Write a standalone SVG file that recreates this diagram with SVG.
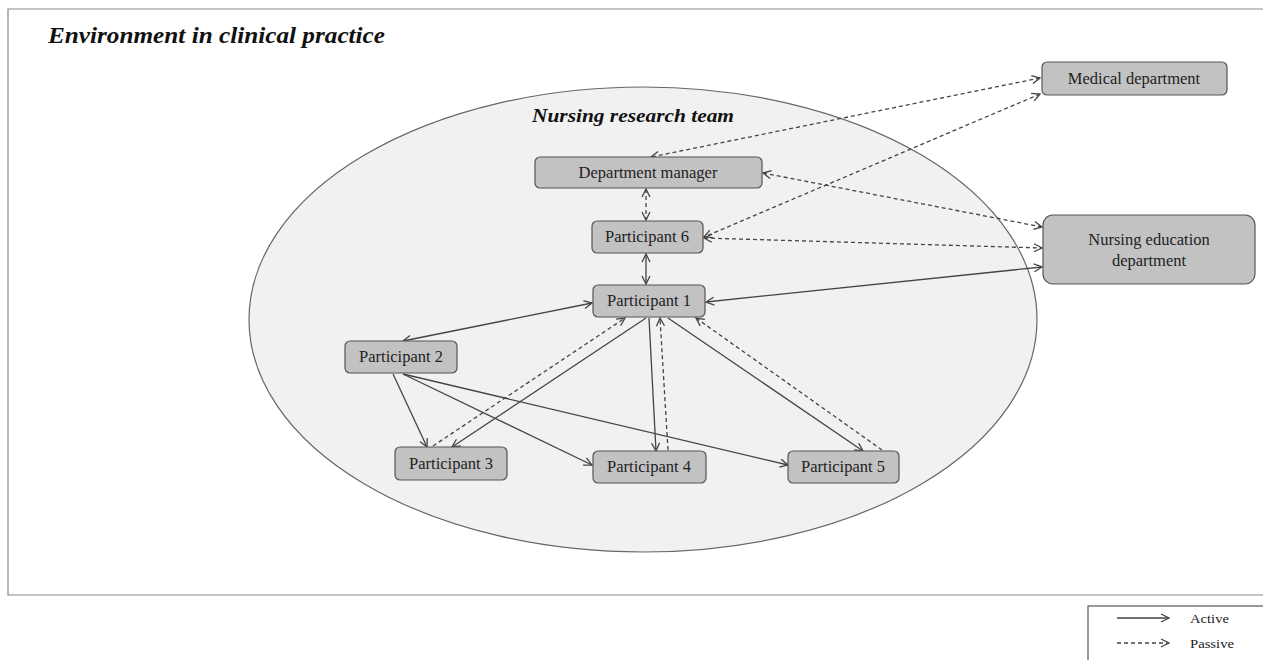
<svg xmlns="http://www.w3.org/2000/svg" width="1263" height="660" viewBox="0 0 1263 660">
<style>
.frame{fill:none;stroke:#888;stroke-width:1.2}
.box rect{fill:#c2c2c2;stroke:#555;stroke-width:1.2}
.lbl{font-family:"Liberation Serif","Times New Roman",serif;font-size:16.5px;fill:#222;text-anchor:middle}
.ttl{font-family:"Liberation Serif","Times New Roman",serif;font-weight:bold;font-style:italic;fill:#111}
.c{fill:none;stroke:#444;stroke-width:1.3}
.d{stroke-dasharray:4 3}
.leg{font-family:"Liberation Serif","Times New Roman",serif;font-size:13px;fill:#222}
</style>
<defs>
<marker id="ah" markerUnits="userSpaceOnUse" markerWidth="12" markerHeight="12" refX="9" refY="5" orient="auto-start-reverse">
<path d="M1,1 L9,5 L1,9" fill="none" stroke="#444" stroke-width="1.3"/>
</marker>
</defs>
<rect width="1263" height="660" fill="#fff"/>
<g id="frame">
<path class="frame" d="M1270,9 L8,9 L8,595 L1270,595"/>
<text class="ttl" x="48" y="43" font-size="24" textLength="337" lengthAdjust="spacingAndGlyphs">Environment in clinical practice</text>
</g>
<g id="team">
<ellipse cx="643" cy="319.5" rx="394" ry="232.5" fill="#f1f1f1" stroke="#666" stroke-width="1.2"/>
<text class="ttl" x="532" y="122" font-size="18" textLength="202" lengthAdjust="spacingAndGlyphs">Nursing research team</text>
</g>
<g id="connectors">
<line class="c d" x1="1040" y1="78" x2="651" y2="157" marker-start="url(#ah)" marker-end="url(#ah)"/>
<line class="c d" x1="1040" y1="94" x2="704" y2="237" marker-start="url(#ah)" marker-end="url(#ah)"/>
<line class="c d" x1="763" y1="173" x2="1042" y2="227" marker-start="url(#ah)" marker-end="url(#ah)"/>
<line class="c d" x1="704" y1="238" x2="1042" y2="248" marker-start="url(#ah)" marker-end="url(#ah)"/>
<line class="c" x1="706" y1="302" x2="1042" y2="267" marker-start="url(#ah)" marker-end="url(#ah)"/>
<line class="c d" x1="646" y1="189" x2="646" y2="220" marker-start="url(#ah)" marker-end="url(#ah)"/>
<line class="c" x1="646" y1="254" x2="646" y2="284" marker-start="url(#ah)" marker-end="url(#ah)"/>
<line class="c" x1="592" y1="303" x2="403" y2="341" marker-start="url(#ah)" marker-end="url(#ah)"/>
<line class="c" x1="393" y1="374" x2="427" y2="447" marker-end="url(#ah)"/>
<line class="c" x1="403" y1="374" x2="592" y2="465" marker-end="url(#ah)"/>
<line class="c" x1="403" y1="374" x2="788" y2="465" marker-end="url(#ah)"/>
<line class="c d" x1="433" y1="446" x2="625" y2="318" marker-end="url(#ah)"/>
<line class="c" x1="646" y1="318" x2="452" y2="447" marker-end="url(#ah)"/>
<line class="c" x1="649" y1="318" x2="656" y2="451" marker-end="url(#ah)"/>
<line class="c d" x1="668" y1="450" x2="660" y2="318" marker-end="url(#ah)"/>
<line class="c" x1="668" y1="318" x2="863" y2="451" marker-end="url(#ah)"/>
<line class="c d" x1="882" y1="450" x2="696" y2="318" marker-end="url(#ah)"/>
</g>
<g id="medical" class="box"><rect x="1042" y="62" width="185" height="33" rx="5"/><text class="lbl" x="1134" y="84">Medical department</text></g>
<g id="nursing-education" class="box"><rect x="1043" y="215" width="212" height="69" rx="10"/><text class="lbl" x="1149" y="245">Nursing education</text><text class="lbl" x="1149" y="266">department</text></g>
<g id="dept-manager" class="box"><rect x="535" y="157" width="227" height="31" rx="5"/><text class="lbl" x="648" y="178">Department manager</text></g>
<g id="p6" class="box"><rect x="592" y="221" width="111" height="32" rx="5"/><text class="lbl" x="647" y="242">Participant 6</text></g>
<g id="p1" class="box"><rect x="593" y="285" width="112" height="32" rx="5"/><text class="lbl" x="649" y="306">Participant 1</text></g>
<g id="p2" class="box"><rect x="345" y="341" width="112" height="32" rx="5"/><text class="lbl" x="401" y="362">Participant 2</text></g>
<g id="p3" class="box"><rect x="395" y="447" width="112" height="33" rx="5"/><text class="lbl" x="451" y="469">Participant 3</text></g>
<g id="p4" class="box"><rect x="593" y="451" width="113" height="32" rx="5"/><text class="lbl" x="649" y="472">Participant 4</text></g>
<g id="p5" class="box"><rect x="788" y="451" width="111" height="32" rx="5"/><text class="lbl" x="843" y="472">Participant 5</text></g>
<g id="legend">
<rect x="1088" y="606" width="200" height="70" fill="#fff" stroke="#555" stroke-width="1.2"/>
<line class="c" x1="1117" y1="618" x2="1169" y2="618" marker-end="url(#ah)"/>
<text class="leg" x="1190" y="623" textLength="39" lengthAdjust="spacingAndGlyphs">Active</text>
<line class="c d" x1="1117" y1="643" x2="1169" y2="643" stroke-width="1" marker-end="url(#ah)"/>
<text class="leg" x="1190" y="648" textLength="44" lengthAdjust="spacingAndGlyphs">Passive</text>
</g>
</svg>
